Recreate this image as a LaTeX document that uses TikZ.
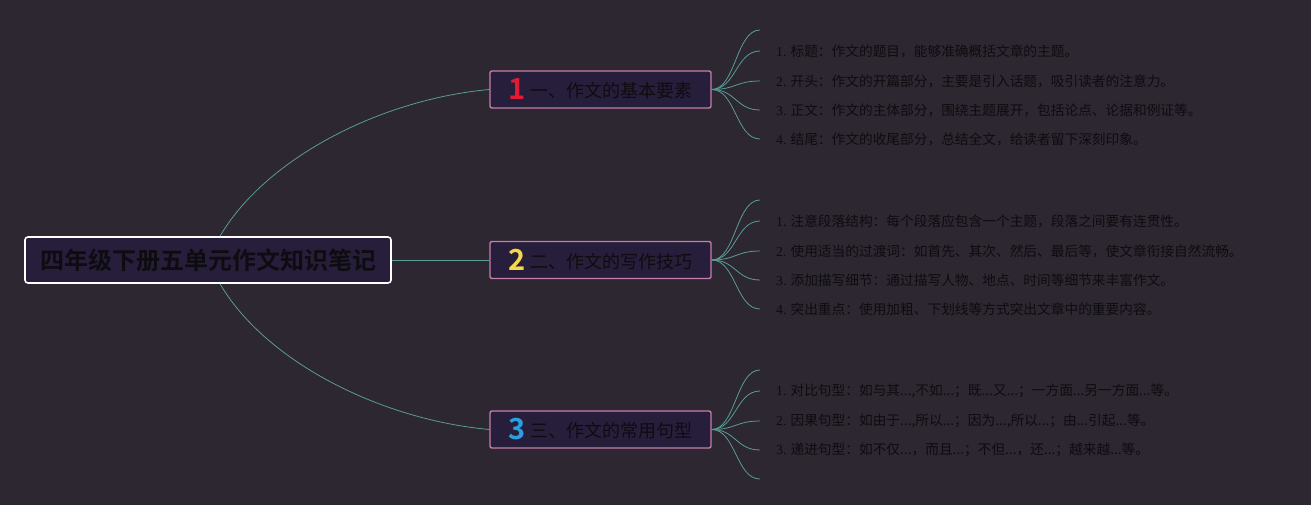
\documentclass[tikz,border=0pt]{standalone}
\usepackage{fontspec}
\setmainfont{Noto Sans CJK SC}[BoldFont={Noto Sans CJK SC Bold}]
\newfontfamily\numfont{Liberation Serif}
\usepackage{tikz}

\definecolor{bg}{HTML}{2C2730}
\definecolor{boxfill}{HTML}{271E3B}
\definecolor{pinkline}{HTML}{C77EAA}
\definecolor{linkcol}{HTML}{5A9C97}
\definecolor{txt}{HTML}{0E0C10}
\definecolor{numred}{HTML}{E21B34}
\definecolor{numyellow}{HTML}{F4D84A}
\definecolor{numblue}{HTML}{2AA0E2}

\newcommand\topicnum[2]{\raisebox{-2pt}{\color{#1}\bfseries\fontsize{29}{29}\selectfont #2}\hspace{5pt}}

\begin{document}
\begin{tikzpicture}[x=1pt,y=-1pt,
  rootbox/.style={draw=white, line width=1.6pt, fill=boxfill, rounded corners=3pt,
    minimum width=366pt, minimum height=46pt, text=txt,
    font=\bfseries\fontsize{24}{24}\selectfont},
  topic/.style={draw=pinkline, line width=1.4pt, fill=boxfill, rounded corners=2pt,
    minimum width=221pt, minimum height=37pt, text=txt,
    font=\fontsize{18}{18}\selectfont},
  item/.style={anchor=west, inner sep=0pt, text=txt,
    font=\fontsize{13.7}{14}\selectfont},
  link/.style={draw=linkcol, line width=0.8pt}]
\fill[bg] (0,0) rectangle (1311,505);
\useasboundingbox (0,0) rectangle (1311,505);

\draw (208,260)   node (0) [rootbox] {四年级下册五单元作文知识笔记};

\draw (600.5,89.5) node (1) [topic] {\topicnum{numred}{1}一、作文的基本要素};
\draw (600.5,260)  node (2) [topic] {\topicnum{numyellow}{2}二、作文的写作技巧};
\draw (600.5,429.5) node (3) [topic] {\topicnum{numblue}{3}三、作文的常用句型};

\draw[link] ([xshift=12pt]0.north) .. controls +(45,-77) and +(-110,10) .. (1.west);
\draw[link] (0.east) -- (2.west);
\draw[link] ([xshift=12pt]0.south) .. controls +(45,77) and +(-110,-10) .. (3.west);

% first topic
\coordinate (10) at (760,30);
\draw (776,51)  node (11) [item] {{\numfont 1.} 标题：作文的题目，能够准确概括文章的主题。};
\draw (776,81)  node (12) [item] {{\numfont 2.} 开头：作文的开篇部分，主要是引入话题，吸引读者的注意力。};
\draw (776,110) node (13) [item] {{\numfont 3.} 正文：作文的主体部分，围绕主题展开，包括论点、论据和例证等。};
\draw (776,139) node (14) [item] {{\numfont 4.} 结尾：作文的收尾部分，总结全文，给读者留下深刻印象。};
\draw[link] (1.east) .. controls +(24,0) and +(-24,0) .. (10);
\draw[link] (1.east) .. controls +(24,0) and +(-24,0) .. ([xshift=-16pt]11.west);
\draw[link] (1.east) .. controls +(24,0) and +(-24,0) .. ([xshift=-16pt]12.west);
\draw[link] (1.east) .. controls +(24,0) and +(-24,0) .. ([xshift=-16pt]13.west);
\draw[link] (1.east) .. controls +(24,0) and +(-24,0) .. ([xshift=-16pt]14.west);

% second topic
\coordinate (20) at (760,200);
\draw (776,221) node (21) [item] {{\numfont 1.} 注意段落结构：每个段落应包含一个主题，段落之间要有连贯性。};
\draw (776,251) node (22) [item] {{\numfont 2.} 使用适当的过渡词：如首先、其次、然后、最后等，使文章衔接自然流畅。};
\draw (776,280) node (23) [item] {{\numfont 3.} 添加描写细节：通过描写人物、地点、时间等细节来丰富作文。};
\draw (776,309) node (24) [item] {{\numfont 4.} 突出重点：使用加粗、下划线等方式突出文章中的重要内容。};
\draw[link] (2.east) .. controls +(24,0) and +(-24,0) .. (20);
\draw[link] (2.east) .. controls +(24,0) and +(-24,0) .. ([xshift=-16pt]21.west);
\draw[link] (2.east) .. controls +(24,0) and +(-24,0) .. ([xshift=-16pt]22.west);
\draw[link] (2.east) .. controls +(24,0) and +(-24,0) .. ([xshift=-16pt]23.west);
\draw[link] (2.east) .. controls +(24,0) and +(-24,0) .. ([xshift=-16pt]24.west);

% third topic
\coordinate (30) at (760,370);
\coordinate (34) at (760,479);
\draw (776,391) node (31) [item] {{\numfont 1.} 对比句型：如与其...,不如...；既...又...；一方面...另一方面...等。};
\draw (776,421) node (32) [item] {{\numfont 2.} 因果句型：如由于...,所以...；因为...,所以...；由...引起...等。};
\draw (776,450) node (33) [item] {{\numfont 3.} 递进句型：如不仅...，而且...；不但...，还...；越来越...等。};
\draw[link] (3.east) .. controls +(24,0) and +(-24,0) .. (30);
\draw[link] (3.east) .. controls +(24,0) and +(-24,0) .. ([xshift=-16pt]31.west);
\draw[link] (3.east) .. controls +(24,0) and +(-24,0) .. ([xshift=-16pt]32.west);
\draw[link] (3.east) .. controls +(24,0) and +(-24,0) .. ([xshift=-16pt]33.west);
\draw[link] (3.east) .. controls +(24,0) and +(-24,0) .. (34);
\end{tikzpicture}
\end{document}
